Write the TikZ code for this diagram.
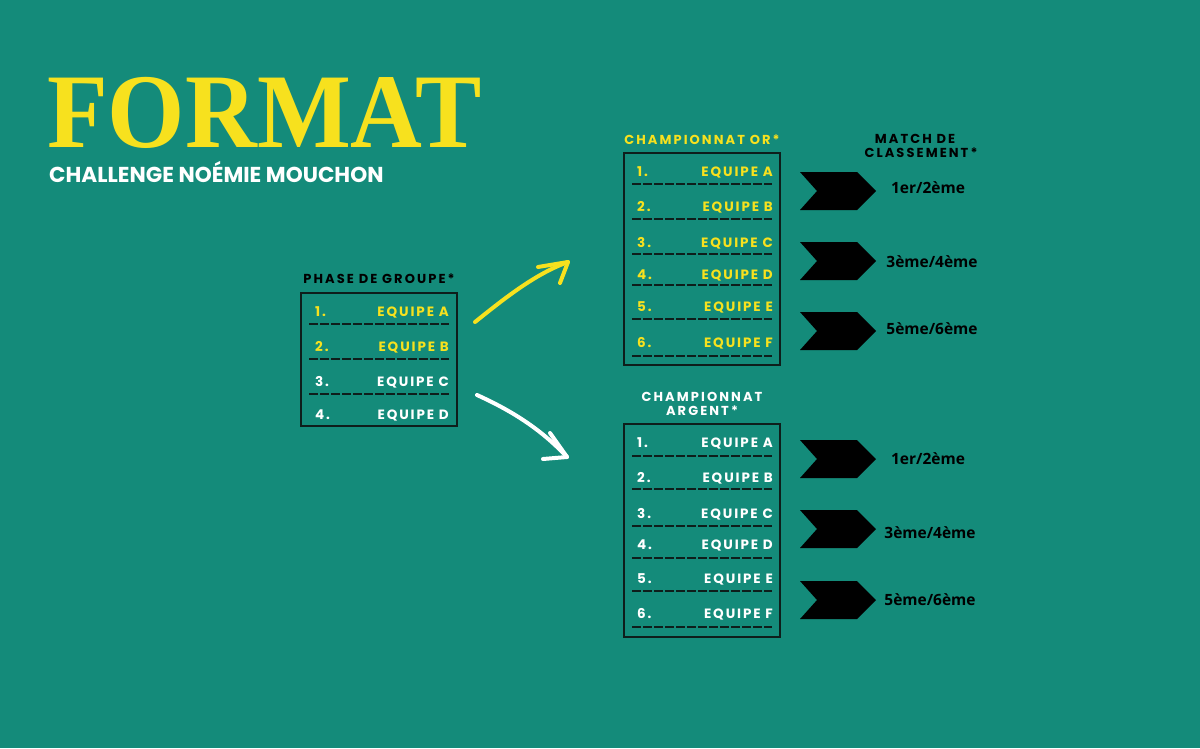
\documentclass[tikz,border=0pt]{standalone}
\usepackage{fontspec}
\newfontfamily\titlefont{Liberation Serif}
\newfontfamily\popfont{Poppins}
\newfontfamily\popls[LetterSpace=14]{Poppins}
\newfontfamily\pophd[LetterSpace=16]{Poppins}
\newfontfamily\openfont{Open Sans}
\definecolor{bg}{HTML}{148B7A}
\definecolor{gold}{HTML}{F7E11E}
\definecolor{boxline}{HTML}{0E1E1B}
\tikzset{
  num/.style={anchor=base west, inner sep=0pt, font=\popls\bfseries\fontsize{13.5}{15}\selectfont},
  team/.style={anchor=base east, inner sep=0pt, font=\popls\bfseries\fontsize{13.5}{15}\selectfont},
  head/.style={anchor=base, inner sep=0pt, font=\pophd\bfseries\fontsize{13}{15}\selectfont},
  dashln/.style={line width=1.9pt, dash pattern=on 9pt off 2pt, draw=boxline},
  frame/.style={draw=boxline, line width=2pt},
  chev/.style={fill=black},
  rank/.style={anchor=base, inner sep=0pt, text=black, font=\openfont\bfseries\fontsize{15.5}{18}\selectfont},
  arr/.style={line width=4pt, line cap=round, line join=round},
}
\begin{document}
\begin{tikzpicture}[x=1pt,y=-1pt]
\useasboundingbox (0,0) rectangle (1200,748);
\fill[bg] (0,0) rectangle (1200,748);
% titles
\node[anchor=base west, inner sep=0pt, text=gold, xscale=0.938, font=\titlefont\bfseries\fontsize{106}{110}\selectfont] (title) at (47,147) {FORMAT};
\node[anchor=base west, inner sep=0pt, text=white, font=\popfont\bfseries\fontsize{21.6}{24}\selectfont] (sub) at (49,182) {CHALLENGE NOÉMIE MOUCHON};

% group phase
\node[head, text=black] (ghead) at (379,283) {PHASE DE GROUPE*};
\draw[frame] (301,293) rectangle (457,426);
\foreach \n/\t/\y/\c in {1/A/316/gold,2/B/351/gold,3/C/386/white,4/D/419/white}{
  \node[num, text=\c] (gn\n) at (315,\y) {\n.};
  \node[team, text=\c] (gt\n) at (449,\y) {EQUIPE \t};
}
\foreach \y in {324,359,394}{ \draw[dashln] (309,\y) -- (449,\y); }

% gold championship
\node[head, text=gold] (ohead) at (702,144) {CHAMPIONNAT OR*};
\draw[frame] (624,153) rectangle (780,365);
\foreach \n/\t/\y in {1/A/176,2/B/211,3/C/247,4/D/279,5/E/311,6/F/347}{
  \node[num, text=gold] (on\n) at (637,\y) {\n.};
  \node[team, text=gold] (ot\n) at (773,\y) {EQUIPE \t};
}
\foreach \y in {184,219,254,285,319,356}{ \draw[dashln] (632,\y) -- (772,\y); }

% silver championship
\node[head, text=white] (shead1) at (702,401) {CHAMPIONNAT};
\node[head, text=white] (shead2) at (702,415) {ARGENT*};
\draw[frame] (624,424) rectangle (780,637);
\foreach \n/\t/\y in {1/A/447,2/B/482,3/C/518,4/D/549,5/E/583,6/F/618}{
  \node[num, text=white] (sn\n) at (637,\y) {\n.};
  \node[team, text=white] (st\n) at (773,\y) {EQUIPE \t};
}
\foreach \y in {456,489,526,558,591,627}{ \draw[dashln] (632,\y) -- (772,\y); }

% match de classement
\node[head, text=black] (mhead1) at (915,143) {MATCH DE};
\node[head, text=black] (mhead2) at (921,157) {CLASSEMENT*};
\foreach \i/\t in {1/172,2/242,3/312,4/440,5/510,6/581}{
  \fill[chev] (800,\t) -- (857,\t) -- (876,\t+19) -- (857,\t+38) -- (800,\t+38) -- (817,\t+19) -- cycle;
}
\node[rank] (r1) at (928,193) {1er/2ème};
\node[rank] (r2) at (932,267) {3ème/4ème};
\node[rank] (r3) at (932,334) {5ème/6ème};
\node[rank] (r4) at (928,464) {1er/2ème};
\node[rank] (r5) at (930,538) {3ème/4ème};
\node[rank] (r6) at (930,605) {5ème/6ème};

% arrows
\coordinate (ya) at (475,322);
\coordinate (yb) at (568,262);
\coordinate (yh1) at (538,267);
\coordinate (yh2) at (560,283);
\draw[arr, gold] (ya) .. controls (505,298) and (535,274) .. (yb);
\draw[arr, gold] (yh1) -- (yb) -- (yh2);
\coordinate (wa) at (477,395);
\coordinate (wb) at (567,457);
\coordinate (wh1) at (543,459);
\coordinate (wh2) at (550,433);
\draw[arr, white] (wa) .. controls (510,410) and (540,428) .. (wb);
\draw[arr, white] (wh1) -- (wb) -- (wh2);
\end{tikzpicture}
\end{document}
